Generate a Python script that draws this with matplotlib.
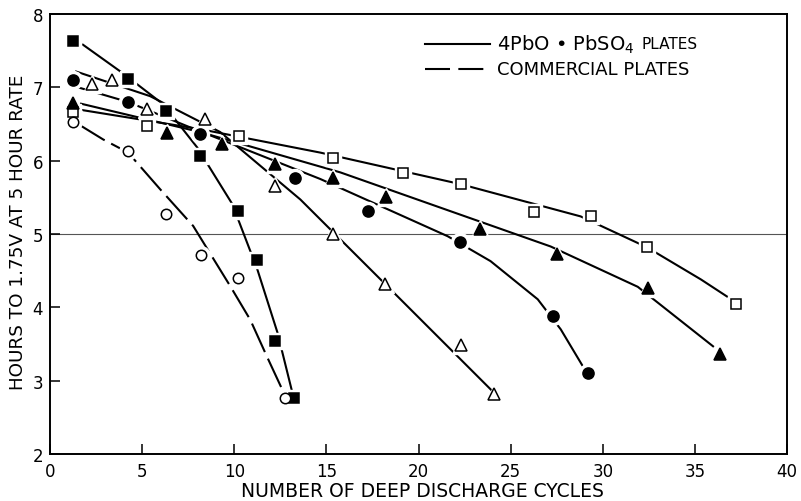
import matplotlib
matplotlib.use("Agg")
import matplotlib.pyplot as plt

# ---- data ----
# filled squares
fsq_x = [1.25, 4.24, 6.3, 8.15, 10.2, 11.25, 12.2, 13.26]
fsq_y = [7.63, 7.12, 6.68, 6.07, 5.31, 4.65, 3.54, 2.76]
fsq_cx = [1.74, 3.91, 6.14, 7.99, 9.89, 11.25, 12.34, 13.15]
fsq_cy = [7.59, 7.20, 6.77, 6.18, 5.41, 4.52, 3.66, 2.84]

# open circles (commercial plates, dashed)
oc_x = [1.25, 4.24, 6.3, 8.2, 10.2, 12.77]
oc_y = [6.53, 6.13, 5.27, 4.72, 4.40, 2.76]
oc_cx = [1.52, 2.88, 4.24, 5.98, 7.77, 9.78, 10.87, 11.79, 12.77]
oc_cy = [6.50, 6.29, 6.11, 5.61, 5.11, 4.29, 3.83, 3.32, 2.79]

# open triangles
otr_x = [2.28, 3.37, 5.27, 8.42, 12.23, 15.38, 18.2, 22.28, 24.08]
otr_y = [7.05, 7.10, 6.71, 6.57, 5.66, 5.00, 4.32, 3.48, 2.82]
otr_cx = [1.36, 5.43, 9.24, 13.59, 19.02, 24.08]
otr_cy = [7.22, 6.88, 6.39, 5.47, 4.11, 2.84]

# filled circles
fc_x = [1.25, 4.24, 8.15, 13.32, 17.28, 22.23, 27.28, 29.18]
fc_y = [7.10, 6.80, 6.36, 5.77, 5.32, 4.89, 3.88, 3.10]
fc_cx = [1.52, 4.24, 7.45, 14.67, 21.58, 23.91, 26.47, 27.72, 28.91]
fc_cy = [7.00, 6.80, 6.47, 5.75, 4.97, 4.63, 4.11, 3.70, 3.20]

# filled triangles
ftr_x = [1.25, 6.36, 9.35, 12.23, 15.38, 18.26, 23.32, 27.5, 32.45, 36.36]
ftr_y = [6.79, 6.38, 6.23, 5.96, 5.77, 5.50, 5.07, 4.73, 4.26, 3.37]
ftr_cx = [1.63, 8.15, 15.76, 27.17, 31.9, 36.03]
ftr_cy = [6.78, 6.39, 5.84, 4.83, 4.28, 3.46]

# open squares
osq_x = [1.25, 5.27, 10.27, 15.38, 19.18, 22.28, 26.25, 29.35, 32.39, 37.23]
osq_y = [6.67, 6.47, 6.33, 6.03, 5.83, 5.68, 5.30, 5.24, 4.82, 4.04]
osq_cx = [1.25, 8.15, 14.67, 22.28, 28.8, 32.39, 35.33, 36.79]
osq_cy = [6.71, 6.43, 6.11, 5.68, 5.24, 4.82, 4.38, 4.14]

x_ticks = [0, 5, 10, 15, 20, 25, 30, 35, 40]
y_ticks = [2, 3, 4, 5, 6, 7, 8]

dashed = (0, (15, 3.5))

fig = plt.figure(figsize=(8.01, 5.02), dpi=100)
ax = fig.add_axes([50 / 801, 47 / 502, 737 / 801, 440 / 502])


def draw(cx, cy, px, py, marker, filled, ms, ls="-"):
    ax.plot(cx, cy, color="black", lw=1.5, ls=ls, zorder=2, solid_capstyle="butt")
    # white halo around markers breaks the lines like in the drawing
    ax.plot(px, py, ls="none", marker=marker, ms=ms + 5, color="white", mec="white", zorder=3)
    ax.plot(px, py, ls="none", marker=marker, ms=ms,
            mfc="black" if filled else "white", mec="black", mew=1.1, zorder=4)


draw(osq_cx, osq_cy, osq_x, osq_y, "s", False, 7)
draw(ftr_cx, ftr_cy, ftr_x, ftr_y, "^", True, 8.5)
draw(fc_cx, fc_cy, fc_x, fc_y, "o", True, 8)
draw(otr_cx, otr_cy, otr_x, otr_y, "^", False, 8.5)
draw(fsq_cx, fsq_cy, fsq_x, fsq_y, "s", True, 7)
draw(oc_cx, oc_cy, oc_x, oc_y, "o", False, 7.5, ls=dashed)

ax.axhline(5, color="#555555", lw=0.8, zorder=1)

ax.set_xlim(0, 40)
ax.set_ylim(2, 8)
ax.set_xticks(x_ticks)
ax.set_yticks(y_ticks)
ax.tick_params(direction="in", length=7, width=1.1, labelsize=12, top=False, right=False)
ax.tick_params(axis="x", pad=6)
ax.tick_params(axis="y", pad=5)
for s in ax.spines.values():
    s.set_linewidth(1.4)

# axis titles placed in figure pixels
fig.text(422 / 801, 1 - 492 / 502, "NUMBER OF DEEP DISCHARGE CYCLES", fontsize=13.5,
         ha="center", va="center")
fig.text(18 / 801, 1 - 232 / 502, "HOURS TO 1.75V AT 5 HOUR RATE", fontsize=13.2,
         rotation=90, ha="center", va="center")

# legend drawn by hand
ax.plot([0.509, 0.597], [0.932, 0.932], color="black", lw=1.5, transform=ax.transAxes)
ax.plot([0.509, 0.597], [0.875, 0.875], color="black", lw=1.5, ls=(0, (12, 4)),
        transform=ax.transAxes)
t1 = ax.text(0.607, 0.932, "4PbO \u2022 PbSO$_4$", fontsize=14, va="center",
             transform=ax.transAxes)
ax.annotate("PLATES", xy=(1, 0.5), xycoords=t1, xytext=(5, 0), textcoords="offset points",
            fontsize=11, va="center")
ax.text(0.607, 0.875, "COMMERCIAL PLATES", fontsize=13, va="center", transform=ax.transAxes)

fig.savefig("out.png", dpi=100)
